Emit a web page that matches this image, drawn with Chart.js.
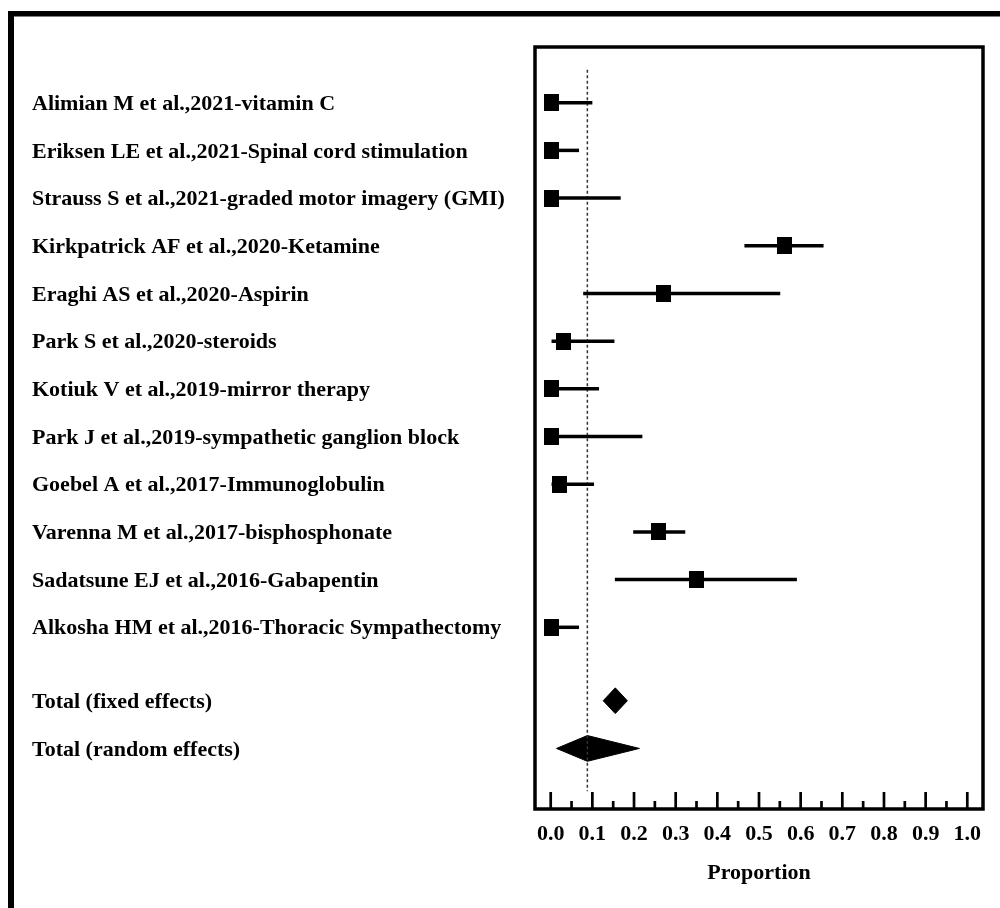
<!DOCTYPE html>
<html>
<head>
<meta charset="utf-8">
<script src="https://cdn.jsdelivr.net/npm/chart.js@4.4.0/dist/chart.umd.min.js"></script>
<style>
  html, body { margin: 0; padding: 0; background: #ffffff; }
  #wrap { width: 1000px; height: 908px; position: relative; }
</style>
</head>
<body>
<div id="wrap"><canvas id="c"></canvas></div>
<script>
// ---------------- data ----------------
const studies = [
  'Alimian M et al.,2021-vitamin C',
  'Eriksen LE et al.,2021-Spinal cord stimulation',
  'Strauss S et al.,2021-graded motor imagery (GMI)',
  'Kirkpatrick AF et al.,2020-Ketamine',
  'Eraghi AS et al.,2020-Aspirin',
  'Park S et al.,2020-steroids',
  'Kotiuk V et al.,2019-mirror therapy',
  'Park J et al.,2019-sympathetic ganglion block',
  'Goebel A et al.,2017-Immunoglobulin',
  'Varenna M et al.,2017-bisphosphonate',
  'Sadatsune EJ et al.,2016-Gabapentin',
  'Alkosha HM et al.,2016-Thoracic Sympathectomy'
];
const estimates = [0.003, 0.003, 0.003, 0.562, 0.270, 0.031, 0.003, 0.003, 0.022, 0.259, 0.350, 0.003];
const lowerCI   = [0.000, 0.000, 0.000, 0.465, 0.078, 0.002, 0.000, 0.000, 0.002, 0.198, 0.154, 0.000];
const upperCI   = [0.100, 0.068, 0.168, 0.655, 0.551, 0.153, 0.116, 0.220, 0.104, 0.323, 0.591, 0.068];

const totalLabels = ['Total (fixed effects)', 'Total (random effects)'];
const totalEst    = [0.155, 0.088];
const totalLower  = [0.126, 0.014];
const totalUpper  = [0.184, 0.213];

const xTickValues = [0.0, 0.1, 0.2, 0.3, 0.4, 0.5, 0.6, 0.7, 0.8, 0.9, 1.0];
const xTitle = 'Proportion';

// ---------------- layout helpers (not data) ----------------
const TOTAL_GAP = 0.54;      // extra vertical gap before totals (row units)
const DIAMOND_HALF = 0.27;   // diamond half-height (row units)
const studyRows = studies.map((_, i) => i);
const totalRows = totalLabels.map((_, j) => studies.length + TOTAL_GAP + j);
const allRows = studyRows.concat(totalRows);
const allLabels = studies.concat(totalLabels);
const refValue = totalEst[1];

const FONT = "'Liberation Serif', 'Times New Roman', serif";
const FSIZE = 22;

// square marker (slightly taller than wide, as in the reference)
const sq = document.createElement('canvas');
sq.width = 15; sq.height = 17;
const sctx = sq.getContext('2d');
sctx.fillStyle = '#000';
sctx.fillRect(0, 0, 15, 17);

const datasets = [];
// confidence-interval lines
studies.forEach((s, i) => {
  datasets.push({
    type: 'line',
    data: [{x: lowerCI[i], y: studyRows[i]}, {x: upperCI[i], y: studyRows[i]}],
    borderColor: '#000', borderWidth: 3.5, pointRadius: 0, fill: false, borderCapStyle: 'butt'
  });
});
// reference dashed line
datasets.push({
  type: 'line',
  data: [{x: refValue, y: -0.69}, {x: refValue, y: 14.44}],
  borderColor: '#333333', borderWidth: 1.5, borderDash: [3, 2.5], pointRadius: 0, fill: false
});
// squares
datasets.push({
  type: 'line',
  showLine: false,
  data: studies.map((s, i) => ({x: estimates[i], y: studyRows[i]})),
  pointStyle: sq, pointRadius: 8, pointBackgroundColor: '#000', pointBorderWidth: 0
});
// diamonds
totalLabels.forEach((t, j) => {
  const y = totalRows[j];
  datasets.push({
    type: 'line',
    data: [
      {x: totalLower[j], y: y},
      {x: totalEst[j], y: y - DIAMOND_HALF},
      {x: totalUpper[j], y: y},
      {x: totalEst[j], y: y + DIAMOND_HALF},
      {x: totalLower[j], y: y}
    ],
    borderColor: '#000', backgroundColor: '#000', borderWidth: 1, pointRadius: 0,
    fill: 'shape', tension: 0
  });
});

const framePlugin = {
  id: 'frame',
  beforeDraw(chart) {
    const ctx = chart.ctx;
    ctx.save();
    ctx.fillStyle = '#fff';
    ctx.fillRect(0, 0, chart.width, chart.height);
    ctx.fillStyle = '#000';
    // outer page frame (top and left)
    ctx.fillRect(8, 11, 992, 5.5);
    ctx.fillRect(8, 11, 6, 897);
    ctx.restore();
  },
  afterDatasetsDraw(chart) {
    const ctx = chart.ctx;
    const a = chart.chartArea;
    const xs = chart.scales.x;
    ctx.save();
    ctx.strokeStyle = '#000';
    ctx.lineWidth = 3.5;
    ctx.strokeRect(a.left, a.top, a.right - a.left, a.bottom - a.top);
    // inward tick marks (major every 0.1, minor every 0.05)
    ctx.lineWidth = 2.7;
    for (let k = 0; k <= 20; k++) {
      const v = k / 20;
      const px = xs.getPixelForValue(v);
      const len = (k % 2 === 0) ? 17 : 8;
      ctx.beginPath();
      ctx.moveTo(px, a.bottom);
      ctx.lineTo(px, a.bottom - len);
      ctx.stroke();
    }
    ctx.restore();
  }
};

new Chart(document.getElementById('c'), {
  type: 'scatter',
  data: { datasets },
  options: {
    responsive: true,
    maintainAspectRatio: false,
    animation: false,
    events: [],
    layout: { padding: { left: 32, right: 17, top: 47, bottom: 0 } },
    plugins: { legend: { display: false }, tooltip: { enabled: false } },
    scales: {
      x: {
        type: 'linear',
        min: -0.0377, max: 1.0377,
        grid: { display: false, drawTicks: false },
        border: { display: false },
        afterBuildTicks: (scale) => { scale.ticks = xTickValues.map(v => ({value: v})); },
        afterFit: (scale) => { scale.height = 99; },
        ticks: {
          padding: 12,
          color: '#000',
          font: { family: FONT, size: FSIZE, weight: 'bold' },
          callback: (v) => Number(v).toFixed(1),
          autoSkip: false, maxRotation: 0
        },
        title: {
          display: true, text: xTitle, color: '#000',
          font: { family: FONT, size: FSIZE, weight: 'bold' },
          padding: { top: 0, bottom: 21 }
        }
      },
      y: {
        type: 'linear',
        reverse: true,
        min: -1.168, max: 14.81,
        grid: { display: false, drawTicks: false },
        border: { display: false },
        afterBuildTicks: (scale) => { scale.ticks = allRows.map(v => ({value: v})); },
        afterFit: (scale) => { scale.width = 503; },
        ticks: {
          crossAlign: 'far',
          padding: 0,
          labelOffset: 1.5,
          color: '#000',
          autoSkip: false,
          font: { family: FONT, size: FSIZE, weight: 'bold' },
          callback: (v, i) => allLabels[i]
        }
      }
    }
  },
  plugins: [framePlugin]
});
</script>
</body>
</html>
